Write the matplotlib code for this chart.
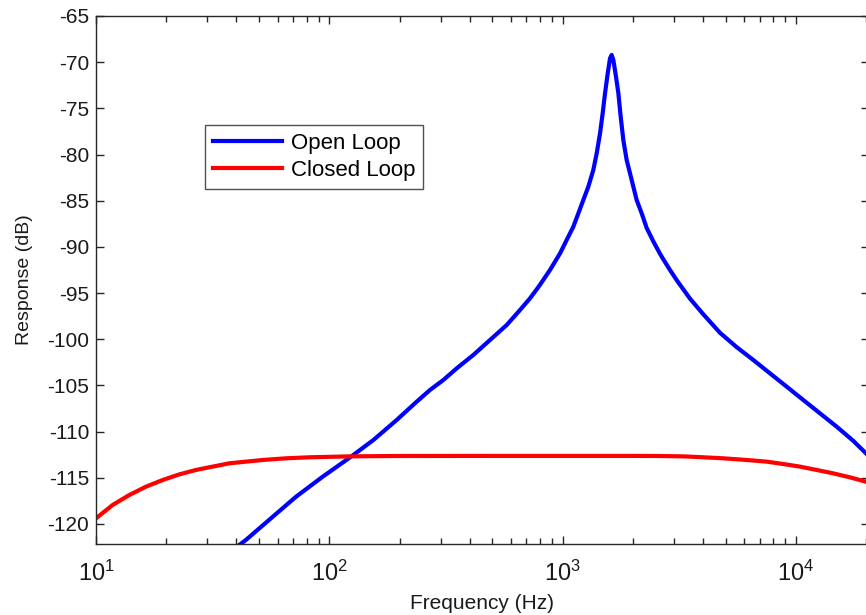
import matplotlib
matplotlib.use("Agg")
import matplotlib.pyplot as plt
import numpy as np

plt.rcParams['font.family'] = ['Liberation Sans', 'DejaVu Sans']
plt.rcParams['mathtext.default'] = 'regular'
plt.rcParams['axes.unicode_minus'] = False

# open loop response
freq_open = [40, 43.9, 56.2, 72, 93.7, 124, 154.5, 194.5, 236.9, 270.2, 308.2, 351.6,
             414.3, 488.5, 575.9, 656.9, 724.9, 774.2, 800, 883, 975, 1041, 1112, 1168,
             1227, 1289, 1354, 1400, 1447, 1485, 1520, 1561, 1597, 1623, 1650, 1694,
             1734, 1774, 1821, 1882, 1945, 2010, 2077, 2183, 2293, 2448, 2616, 2703,
             2886, 3083, 3516, 4011, 4727, 5572, 6571, 7743, 9128, 10760, 12683, 14950,
             17620, 19970]
resp_open = [-122.5, -121.73, -119.39, -117.05, -114.88, -112.71, -110.91, -108.74,
             -106.76, -105.49, -104.41, -103.15, -101.70, -100.08, -98.46, -96.83,
             -95.57, -94.6, -94.1, -92.5, -90.70, -89.25, -87.81, -86.37, -84.92,
             -83.48, -81.67, -79.87, -77.70, -75.54, -73.37, -71.21, -69.58, -69.22,
             -69.76, -71.57, -73.37, -75.90, -78.43, -80.59, -82.03, -83.48, -84.92,
             -86.37, -87.95, -89.40, -90.75, -91.35, -92.5, -93.6, -95.6, -97.3,
             -99.3, -100.85, -102.25, -103.69, -105.13, -106.58, -108.02, -109.46,
             -111.0, -112.35]

# closed loop response
freq_closed = [10, 11.79, 13.9, 16.38, 19.31, 22.77, 26.83, 31.62, 37.28, 43.95, 51.8,
               65.2, 82.1, 121.9, 193.2, 500, 1000, 2000, 2600, 3300, 3880, 4885, 6151,
               7492, 8831, 10410, 12270, 14460, 17050, 19970]
resp_closed = [-119.39, -117.94, -116.86, -115.96, -115.24, -114.63, -114.15, -113.79,
               -113.43, -113.25, -113.07, -112.89, -112.78, -112.68, -112.64, -112.63,
               -112.63, -112.63, -112.64, -112.68, -112.76, -112.89, -113.07, -113.25,
               -113.51, -113.79, -114.15, -114.52, -114.95, -115.42]

yticks = list(range(-120, -64, 5))

fig = plt.figure(figsize=(8.66, 6.15), dpi=100)
ax = fig.add_axes([96 / 866, 71 / 615, (869 - 96) / 866, (544 - 16) / 615])

ax.semilogx(freq_open, resp_open, color=(0, 0, 1), lw=3, label='Open Loop')
ax.semilogx(freq_closed, resp_closed, color=(1, 0, 0), lw=3, label='Closed Loop')

ax.set_xlim(10, 10 ** (1 + (869 - 96) / 233.3))
ax.set_ylim(-65 - (544 - 16) / 9.236, -65)
ax.set_yticks(yticks)

dark = '#262626'
for s in ax.spines.values():
    s.set_color(dark)
    s.set_linewidth(1.0)
ax.tick_params(which='both', direction='in', top=True, right=True, colors=dark,
               labelcolor='#1a1a1a')
ax.tick_params(which='major', length=6, width=1.0)
ax.tick_params(which='minor', length=4, width=1.0)
ax.tick_params(axis='y', labelsize=15, pad=5)
ax.tick_params(axis='x', labelsize=17, pad=12)

ax.set_xlabel('Frequency (Hz)', fontsize=15, labelpad=6, color='#1a1a1a')
ax.set_ylabel('Response (dB)', fontsize=14, labelpad=10, color='#1a1a1a')

leg = ax.legend(loc='upper left', bbox_to_anchor=(205 / 866, 1 - 125 / 615),
                bbox_transform=fig.transFigure, fontsize=16, frameon=True,
                fancybox=False, shadow=False, handlelength=3.1, handletextpad=0.4,
                borderpad=0.35, labelspacing=0.28, borderaxespad=0)
leg.get_frame().set_edgecolor(dark)
leg.get_frame().set_linewidth(1.0)

fig.savefig('out.png', dpi=100)
